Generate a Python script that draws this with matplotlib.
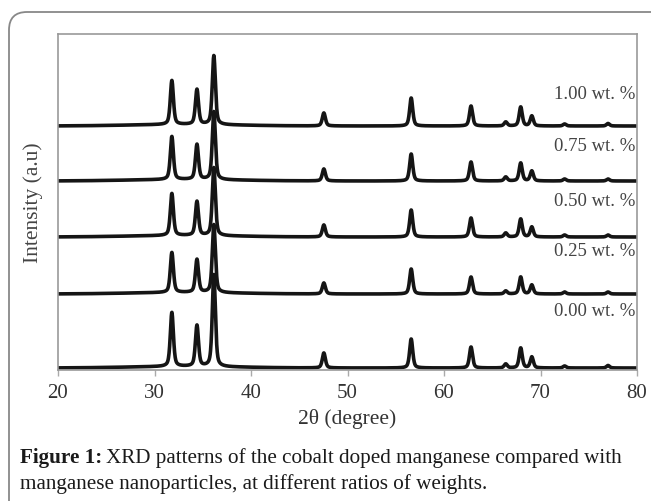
import numpy as np
import matplotlib
matplotlib.use("Agg")
import matplotlib.pyplot as plt
from matplotlib.patches import FancyBboxPatch
from matplotlib.transforms import IdentityTransform

# ---- data ----
peak_positions = [31.8, 34.4, 36.15, 47.55, 56.6, 62.8, 66.4, 67.95, 69.1, 72.5, 77.0]
samples = ["1.00 wt. %", "0.75 wt. %", "0.50 wt. %", "0.25 wt. %", "0.00 wt. %"]
h_100 = [44, 35, 69, 13, 28, 20, 4, 19, 10, 2, 2.5]
h_075 = [43, 35, 68, 12, 27, 19, 4, 18, 10, 2, 2]
h_050 = [42, 34, 68, 12, 27, 19, 4, 18, 10, 2, 2]
h_025 = [40, 33, 68, 11, 25, 17, 3, 17, 9, 2, 2]
h_000 = [54, 41, 92, 15, 29, 21, 4, 20, 11, 2, 2.5]
heights = [h_100, h_075, h_050, h_025, h_000]
offsets = [242, 187, 131, 74, 0]          # vertical stacking of the patterns
label_y = [274, 222, 167, 117, 57]
x_ticks = [20, 30, 40, 50, 60, 70, 80]

fwhm = 0.38
two_theta = np.linspace(20, 80, 3000)

def pattern(h):
    y = np.zeros_like(two_theta)
    for p, a in zip(peak_positions, h):
        g = (fwhm / 2) ** 2 / ((two_theta - p) ** 2 + (fwhm / 2) ** 2)
        gs = np.exp(-4 * np.log(2) * (two_theta - p) ** 2 / fwhm ** 2)
        y += a * (0.5 * g + 0.5 * gs)
    # faint amorphous background
    y += 1.5 * np.exp(-((two_theta - 33) / 8) ** 2)
    return y

fig = plt.figure(figsize=(6.51, 5.02), dpi=100)
ax = fig.add_axes([58 / 651, 1 - 371 / 502, 579 / 651, 336 / 502])

for h, off in zip(heights, offsets):
    ax.plot(two_theta, pattern(h) + off, color="#151515", lw=2.6,
            solid_joinstyle="round", solid_capstyle="round")

serif = ["Liberation Serif", "DejaVu Serif"]
for s, ly in zip(samples, label_y):
    ax.text(79.8, ly, s, ha="right", va="center", fontsize=13.5, family=serif, color="#444444")

ax.set_xlim(20, 80)
ax.set_ylim(-2, 334)
ax.set_xticks(x_ticks)
ax.set_xticklabels([str(t) for t in x_ticks], family=serif, fontsize=15, color="#333333")
ax.set_yticks([])
ax.tick_params(axis="x", direction="out", length=4, width=1, color="#aaaaaa", pad=5)
for sp in ax.spines.values():
    sp.set_color("#999999")
    sp.set_linewidth(1.2)

ax.set_xlabel("2θ (degree)", family=serif, fontsize=15.5, color="#333333", labelpad=5)
fig.text(33 / 651, 1 - 203 / 502, "Intensity (a.u)", rotation=90, ha="center", va="center",
         family=serif, fontsize=15.5, color="#444444")

# caption
fig.canvas.draw()
r = fig.canvas.get_renderer()
cx = 20 / 651
cy1 = 1 - 458 / 502
cy2 = 1 - 484 / 502
cap_fs = 15.2
t1 = fig.text(cx, cy1, "Figure 1:", fontweight="bold", family=serif, fontsize=cap_fs,
              color="#1a1a1a", va="center")
bb = t1.get_window_extent(renderer=r)
fig.text((bb.x1 + 4) / 651, cy1, "XRD patterns of the cobalt doped manganese compared with",
         family=serif, fontsize=cap_fs, color="#1a1a1a", va="center")
fig.text(cx, cy2, "manganese nanoparticles, at different ratios of weights.",
         family=serif, fontsize=cap_fs, color="#1a1a1a", va="center")

# outer rounded border
border = FancyBboxPatch((9, -60), 720, 502 - 13 + 60,
                        boxstyle="round,pad=0,rounding_size=18",
                        transform=IdentityTransform(), fill=False,
                        edgecolor="#888888", linewidth=1.3)
fig.add_artist(border)

fig.savefig("out.png", dpi=100)
